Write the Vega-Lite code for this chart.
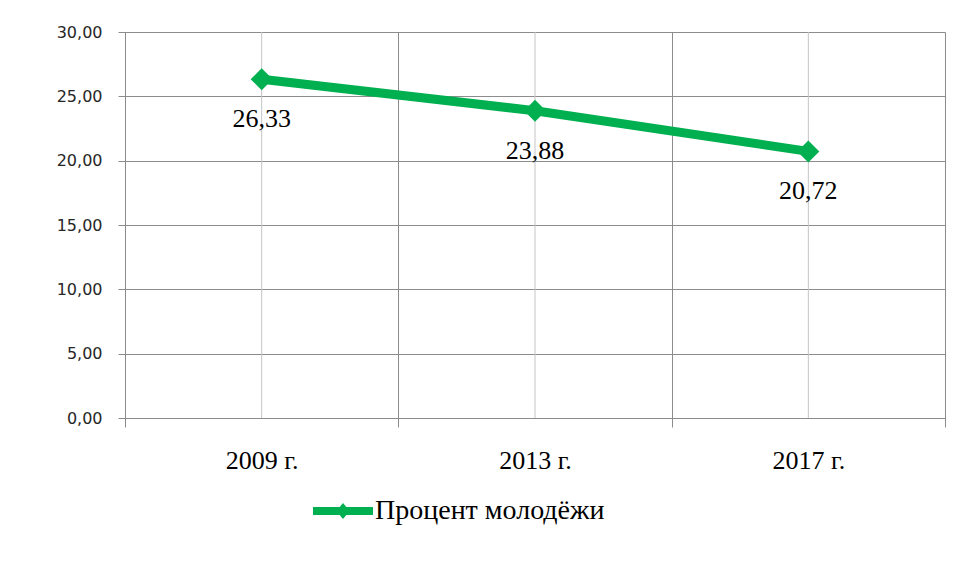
{
  "$schema": "https://vega.github.io/schema/vega-lite/v6.json",
  "width": 820,
  "height": 386,
  "autosize": {"type": "none"},
  "padding": {"left": 125, "top": 32, "right": 12, "bottom": 144},
  "background": "white",
  "data": {
    "values": [
      {"year": "2009 г.", "value": 26.33, "series": "Процент молодёжи"},
      {"year": "2013 г.", "value": 23.88, "series": "Процент молодёжи"},
      {"year": "2017 г.", "value": 20.72, "series": "Процент молодёжи"}
    ]
  },
  "transform": [
    {"calculate": "replace(format(datum.value, '.2f'), '.', ',')", "as": "label"}
  ],
  "encoding": {
    "x": {
      "field": "year",
      "type": "nominal",
      "sort": null,
      "scale": {"type": "band", "paddingInner": 0, "paddingOuter": 0},
      "axis": {
        "title": null,
        "tickBand": "extent",
        "grid": true,
        "gridColor": "#8c8c8c",
        "gridOpacity": 1,
        "domainColor": "#8c8c8c",
        "tickColor": "#8c8c8c",
        "tickSize": 9,
        "labelAngle": 0,
        "labelFont": "Liberation Serif",
        "labelFontSize": 26,
        "labelColor": "black",
        "labelPadding": 20
      }
    }
  },
  "layer": [
    {
      "mark": {"type": "rule", "color": "#c4c4c4", "strokeWidth": 1},
      "encoding": {}
    },
    {
      "mark": {"type": "line", "strokeWidth": 9, "strokeCap": "round"},
      "encoding": {
        "y": {
          "field": "value",
          "type": "quantitative",
          "scale": {"domain": [0, 30], "nice": false, "zero": true},
          "axis": {
            "title": null,
            "values": [0, 5, 10, 15, 20, 25, 30],
            "labelExpr": "replace(format(datum.value, '.2f'), '.', ',')",
            "grid": true,
            "gridColor": "#8c8c8c",
            "gridOpacity": 1,
            "domainColor": "#8c8c8c",
            "tickColor": "#8c8c8c",
            "tickSize": 7,
            "labelPadding": 16,
            "labelFont": "DejaVu Sans",
            "labelFontSize": 16,
            "labelColor": "#262626"
          }
        },
        "color": {
          "field": "series",
          "type": "nominal",
          "scale": {"range": ["#00b050"]},
          "legend": {
            "title": null,
            "orient": "none",
            "legendX": 188,
            "legendY": 449,
            "padding": 0,
            "symbolType": "M-1,-0.13H1V0.13H-1Z M0,-0.27L0.22,0L0,0.27L-0.22,0Z",
            "symbolSize": 3600,
            "symbolFillColor": "#00b050",
            "symbolStrokeColor": "#00b050",
            "symbolStrokeWidth": 0,
            "labelFont": "Liberation Serif",
            "labelFontSize": 28,
            "labelColor": "black",
            "labelOffset": 2,
            "labelLimit": 400,
            "encode": {
              "symbols": {
                "update": {
                  "fill": {"value": "#00b050"},
                  "stroke": {"value": "transparent"},
                  "opacity": {"value": 1}
                }
              }
            }
          }
        }
      }
    },
    {
      "mark": {"type": "point", "shape": "diamond", "filled": true, "size": 484, "opacity": 1},
      "encoding": {
        "y": {"field": "value", "type": "quantitative"},
        "color": {"field": "series", "type": "nominal"}
      }
    },
    {
      "mark": {
        "type": "text",
        "font": "Liberation Serif",
        "fontSize": 26,
        "color": "black",
        "baseline": "alphabetic",
        "align": "center",
        "dy": 48
      },
      "encoding": {
        "y": {"field": "value", "type": "quantitative"},
        "text": {"field": "label"}
      }
    }
  ]
}
